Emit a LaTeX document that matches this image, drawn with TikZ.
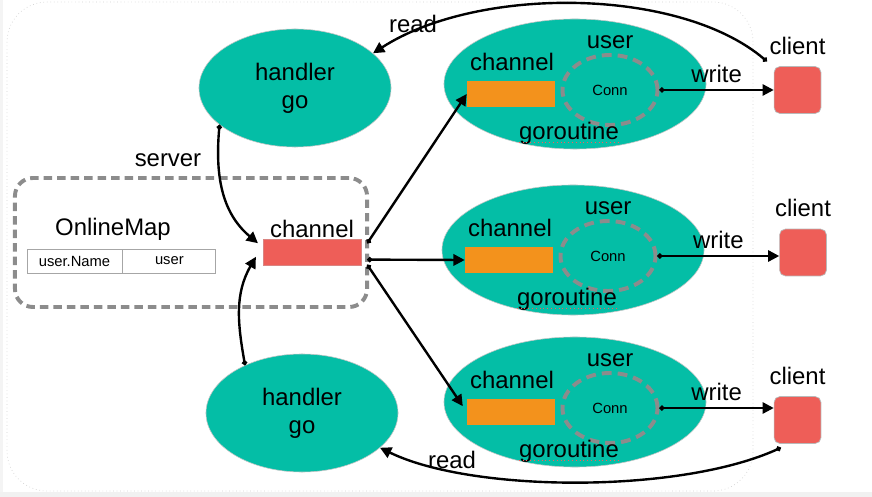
\documentclass[tikz,border=0pt]{standalone}
\usepackage{fontspec}
\setmainfont{Liberation Sans}
\usetikzlibrary{shapes.geometric,arrows.meta}
\definecolor{gorteal}{RGB}{4,190,166}
\definecolor{bufor}{RGB}{243,146,28}
\definecolor{chred}{RGB}{238,94,88}
\definecolor{dashgr}{RGB}{140,140,140}
\begin{document}
\begin{tikzpicture}[x=0.025cm,y=-0.025cm,
    txt/.style={font=\fontsize{17}{20}\selectfont, inner sep=0pt},
  small/.style={font=\fontsize{10.5}{12}\selectfont, inner sep=0pt},
  gor/.style={ellipse, fill=gorteal, draw=gray!45, line width=0.4pt, minimum width=6.55cm, minimum height=3.25cm, inner sep=0pt},
  handler/.style={ellipse, fill=gorteal, draw=gray!45, line width=0.4pt, minimum width=4.8cm, minimum height=2.95cm, inner sep=0pt, align=center, font=\fontsize{17}{20}\selectfont},
  buf/.style={rectangle, fill=bufor, minimum width=2.2cm, minimum height=0.65cm, inner sep=0pt},
  userring/.style={ellipse, draw=dashgr, line width=2.8pt, dash pattern=on 7pt off 4.3pt, minimum width=2.375cm, minimum height=1.75cm, inner sep=0pt},
  client/.style={rectangle, rounded corners=4pt, fill=chred, draw=gray!55, line width=0.5pt, minimum size=1.17cm, inner sep=0pt},
  arr/.style={line width=1.7pt, {Circle[length=3.5pt]}-{Triangle[length=8pt,width=8pt]}},
  cell/.style={draw=gray!70, line width=0.6pt, minimum height=0.6cm, inner sep=0pt, font=\fontsize{10.5}{12}\selectfont},
  ]
\useasboundingbox (0,0) rectangle (872,497);
\fill[gray!9] (0,0) rectangle (3,497);
\fill[gray!11] (0,492) rectangle (872,497);
\draw[gray!35, dotted, line width=0.5pt, rounded corners=1cm] (7,2) rectangle (753,491);

\node[draw=dashgr, line width=2.8pt, dash pattern=on 6pt off 3.6pt, rounded corners=0.45cm, minimum width=8.8cm, minimum height=3.225cm] (omap) at (191,242.5) {};
\node[txt] (omaplbl) at (113,229) {OnlineMap};
\node[cell, minimum width=2.375cm] (cellname) at (74.5,261) {user.Name};
\node[cell, minimum width=2.325cm, anchor=west] (celluser) at (cellname.east) {user};

\node[rectangle, fill=chred, draw=chred!85!black!70, line width=0.4pt, minimum width=2.45cm, minimum height=0.65cm, inner sep=0pt] (chan) at (312,252) {};
\node[txt] (chanlbl) at (312,229) {channel};

\node[handler] (handler1) at (295,88) {handler\\go};
\node[handler] (handler2) at (302,413) {handler\\go};

\foreach \i/\x/\y/\cx/\cy in {1/575/84/797.5/90, 2/573/250/803/252.5, 3/575/402/797.5/420} {
  \node[gor] (gor\i) at (\x,\y) {};
  \node[buf] (buf\i) at (\x-64,\y+10) {};
  \node[txt] (buflbl\i) at (\x-63,\y-22) {channel};
  \node[userring] (ring\i) at (\x+35,\y+6) {};
  \node[small] (conn\i) at (ring\i) {Conn};
  \node[txt] (userlbl\i) at (\x+35,\y-42) {user};
  \node[txt] (gorlbl\i) at (\x-6,\y+49) {goroutine};
  \draw[red!65, dotted, line width=0.7pt] ([yshift=1.5pt]gorlbl\i.south west) -- ([yshift=1.5pt]gorlbl\i.south east);
  \node[client, label={[txt, label distance=8pt]above:client}] (cli\i) at (\cx,\cy) {};
  \draw[arr] (ring\i.east) -- (ring\i.east -| cli\i.west) node[txt, midway, above=4pt] {write};
}

\draw[arr] (handler1.206) to[out=-95,in=140] ([xshift=-0.12cm,yshift=0.22cm]chan.west);
\node[txt] (srvlbl) at (168,160) {server};
\draw[arr] (handler2.140) to[out=100,in=-120] ([xshift=-0.17cm,yshift=-0.12cm]chan.west);

\draw[arr] ([xshift=0.15cm,yshift=0.22cm]chan.east) -- (buf1.west);
\draw[arr] ([xshift=0.15cm,yshift=-0.19cm]chan.east) -- (buf2.west);
\draw[arr, shorten >=5pt] ([xshift=0.15cm,yshift=-0.32cm]chan.east) -- (buf3.west);

\draw[arr] ([xshift=-0.175cm,yshift=0.125cm]cli1.north west) .. controls +(-87,-74) and +(105,-68) .. (handler1.24);
\node[txt] (readlbl1) at (413,24) {read};
\draw[arr] ([xshift=0.175cm,yshift=-0.1cm]cli3.south west) .. controls +(-101,46) and +(92,45) .. (handler2.-24);
\node[txt] (readlbl2) at (452,460) {read};

\end{tikzpicture}
\end{document}
